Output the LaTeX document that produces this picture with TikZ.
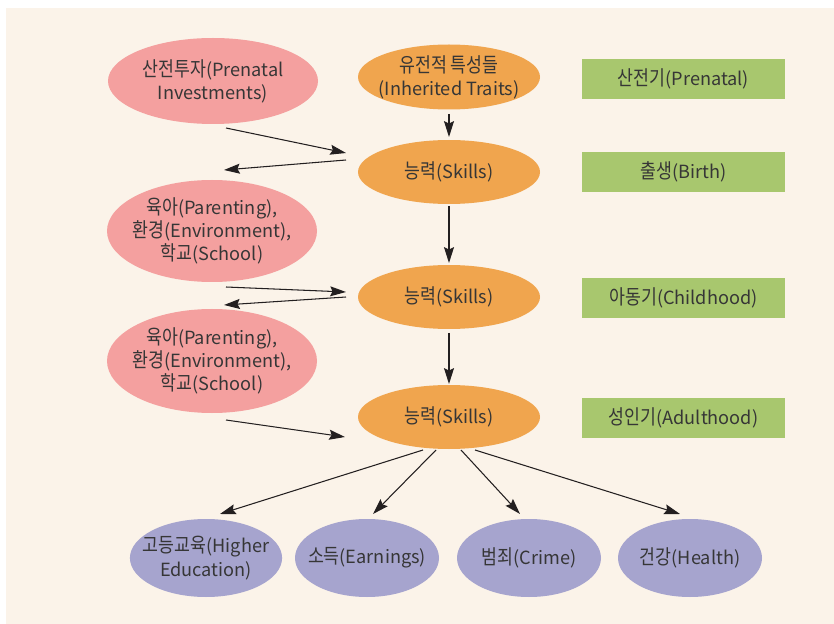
\documentclass[tikz,border=0pt]{standalone}
\usepackage{fontspec}
\setmainfont{Noto Sans CJK KR}
\newfontfamily\korean[FakeStretch=0.85,Scale=1.12]{Noto Sans CJK KR}
\newcommand{\ko}[1]{{\korean #1}}
\usetikzlibrary{shapes.geometric}
\usetikzlibrary{calc}
\usetikzlibrary{arrows.meta}

\definecolor{cream}{HTML}{FBF3E9}
\definecolor{pinkfill}{HTML}{F4A09F}
\definecolor{orangefill}{HTML}{F0A54E}
\definecolor{greenfill}{HTML}{A8C76E}
\definecolor{purplefill}{HTML}{A6A4CE}
\definecolor{inktext}{HTML}{363636}
\definecolor{inkline}{HTML}{231F20}

\tikzset{
	blob/.style={ellipse, inner sep=-8pt, align=center, text=inktext,
		font=\fontsize{15.5}{19.8}\selectfont},
	factor/.style={blob, fill=pinkfill, minimum width=210*0.03cm, minimum height=86*0.03cm},
	skill/.style={blob, fill=orangefill, minimum width=182*0.03cm, minimum height=64*0.03cm},
	outcome/.style={blob, fill=purplefill, minimum width=144*0.03cm, minimum height=78*0.03cm},
	stage/.style={rectangle, fill=greenfill, inner sep=0pt, text=inktext,
		minimum width=203*0.03cm, minimum height=40*0.03cm,
		font=\fontsize{15.5}{19.8}\selectfont},
	flow/.style={-{Stealth[length=13.5pt,width=8.5pt,inset=2pt]}, line width=0.9pt, draw=inkline}
}

\begin{document}
\begin{tikzpicture}[x=0.03cm, y=-0.03cm]
		\useasboundingbox (0,0) rectangle (834,624);
		\fill[cream] (6,8) rectangle (834,624);

		% Causes
		\node[factor] (pre) at (213,81) {\ko{산전투자}(Prenatal\\Investments)};
		\node[factor, minimum height=102*0.03cm] (par1) at (212,231) {\ko{육아}(Parenting),\\\ko{환경}(Environment),\\\ko{학교}(School)};
		\node[factor, minimum height=104*0.03cm] (par2) at (212,361) {\ko{육아}(Parenting),\\\ko{환경}(Environment),\\\ko{학교}(School)};

		% Skills
		\node[skill, minimum height=65*0.03cm] (gen) at (449,77) {\ko{유전적 특성들}\\(Inherited Traits)};
		\node[skill] (sk1) at (449,172) {\ko{능력}(Skills)};
		\node[skill] (sk2) at (449,297) {\ko{능력}(Skills)};
		\node[skill] (sk3) at (449,417) {\ko{능력}(Skills)};

		% Stages
		\node[stage] (st1) at (683.5,79) {\ko{산전기}(Prenatal)};
		\node[stage] (st2) at (683.5,172) {\ko{출생}(Birth)};
		\node[stage] (st3) at (683.5,298) {\ko{아동기}(Childhood)};
		\node[stage] (st4) at (683.5,418) {\ko{성인기}(Adulthood)};

		% Outcomes
		\node[outcome] (hed) at (206,558) {\ko{고등교육}(Higher\\Education)};
		\node[outcome] (ear) at (367,558) {\ko{소득}(Earnings)};
		\node[outcome] (cri) at (529,558) {\ko{범죄}(Crime)};
		\node[outcome] (hea) at (690,558) {\ko{건강}(Health)};

		% Connections
		\draw[flow] ($(gen)+(0,37)$) -- ($(sk1)+(0,-35)$);
		\draw[flow] ($(sk1)+(0,34)$) -- ($(sk2)+(0,-34)$);
		\draw[flow] ($(sk2)+(0,36)$) -- ($(sk3)+(0,-33)$);

		\draw[flow] ($(pre)+(13,47)$) -- ($(sk1)+(-103,-19)$);
		\draw[flow] ($(sk1)+(-103,-12)$) -- ($(par1)+(12,-61)$);
		\draw[flow] ($(par1)+(14,56)$) -- ($(sk2)+(-103,-5)$);
		\draw[flow] ($(sk2)+(-103,0)$) -- ($(par2)+(12,-56)$);
		\draw[flow] ($(par2)+(14,59)$) -- ($(sk3)+(-104,20)$);

		\draw[flow] ($(sk3)+(-26,33)$) -- ($(hed)+(14,-44)$);
		\draw[flow] ($(sk3)+(-13,33)$) -- ($(ear)+(6,-44)$);
		\draw[flow] ($(sk3)+(12,33)$) -- ($(cri)+(-9,-44)$);
		\draw[flow] ($(sk3)+(26,33)$) -- ($(hea)+(-10,-44)$);
	\end{tikzpicture}
\end{document}
